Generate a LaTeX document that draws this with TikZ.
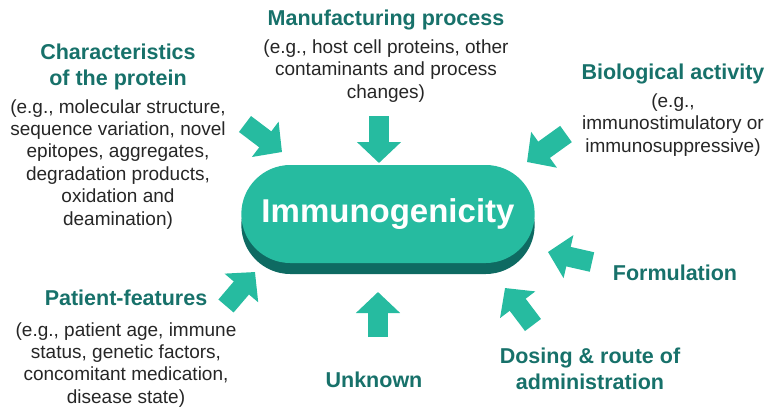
\documentclass[tikz,border=0pt]{standalone}
\usepackage{fontspec}
\setmainfont{Liberation Sans}
\usepackage{xcolor}
\usepackage{tikz}
\usetikzlibrary{shapes.misc, arrows.meta, positioning, shadows}

\definecolor{tealfill}{HTML}{26BBA0}
\definecolor{tealdark}{HTML}{0E6A62}
\definecolor{tealtext}{HTML}{17716A}
\definecolor{bodytext}{HTML}{262626}

\begin{document}
\begin{tikzpicture}[x=1pt, y=-1pt, node distance=9pt,
    head/.style={text=tealtext, font=\fontsize{21.5}{26}\selectfont\bfseries, align=center, inner sep=0pt},
    body/.style={text=bodytext, font=\fontsize{19}{22.4}\selectfont, align=center, inner sep=0pt},
    push/.style={draw=tealfill, line width=20pt, -{Triangle[width=43pt, length=21pt]}}]
    \useasboundingbox (0,0) rectangle (766,408);

    % centre pill
    \node[rounded rectangle, minimum width=300pt, minimum height=98pt, fill=tealfill, text=white,
          font=\fontsize{33}{40}\selectfont\bfseries,
          drop shadow={shadow xshift=0pt, shadow yshift=-11pt, fill=tealdark, opacity=1}] (immuno) at (388,214) {Immunogenicity};

    % factors
    \node[head] (charac) at (118,67) {Characteristics\\of the protein};
    \node[body, below=of charac] (characeg) {(e.g., molecular structure,\\sequence variation, novel\\epitopes, aggregates,\\degradation products,\\oxidation and\\deamination)};

    \node[head] (manuf) at (386,20) {Manufacturing process};
    \node[body, below=of manuf] (manufeg) {(e.g., host cell proteins, other\\contaminants and process\\changes)};

    \node[head] (bio) at (673,74) {Biological activity};
    \node[body, below=of bio] (bioeg) {(e.g.,\\immunostimulatory or\\immunosuppressive)};

    \node[head] (form) at (675,273) {Formulation};
    \node[head] (dosing) at (590,369) {Dosing \& route of\\administration};
    \node[head] (unknown) at (374,380) {Unknown};

    \node[head] (patient) at (126,298) {Patient-features};
    \node[body, below=16pt of patient] (patienteg) {(e.g., patient age, immune\\status, genetic factors,\\concomitant medication,\\disease state)};

    % block arrows towards the pill
    \coordinate (charac-s) at (245,124);
    \coordinate (charac-t) at (282,152);
    \coordinate (manuf-s) at (379,116);
    \coordinate (manuf-t) at (379,163);
    \coordinate (bio-s) at (566,134);
    \coordinate (bio-t) at (527,162);
    \coordinate (form-s) at (592,262);
    \coordinate (form-t) at (548,252);
    \coordinate (dosing-s) at (533,325);
    \coordinate (dosing-t) at (505,288);
    \coordinate (unknown-s) at (378,337);
    \coordinate (unknown-t) at (378,292);
    \coordinate (patient-s) at (226,306);
    \coordinate (patient-t) at (255,272);

    \draw[push] (charac-s) -- (charac-t);
    \draw[push] (manuf-s) -- (manuf-t);
    \draw[push] (bio-s) -- (bio-t);
    \draw[push] (form-s) -- (form-t);
    \draw[push] (dosing-s) -- (dosing-t);
    \draw[push] (unknown-s) -- (unknown-t);
    \draw[push] (patient-s) -- (patient-t);
\end{tikzpicture}
\end{document}
